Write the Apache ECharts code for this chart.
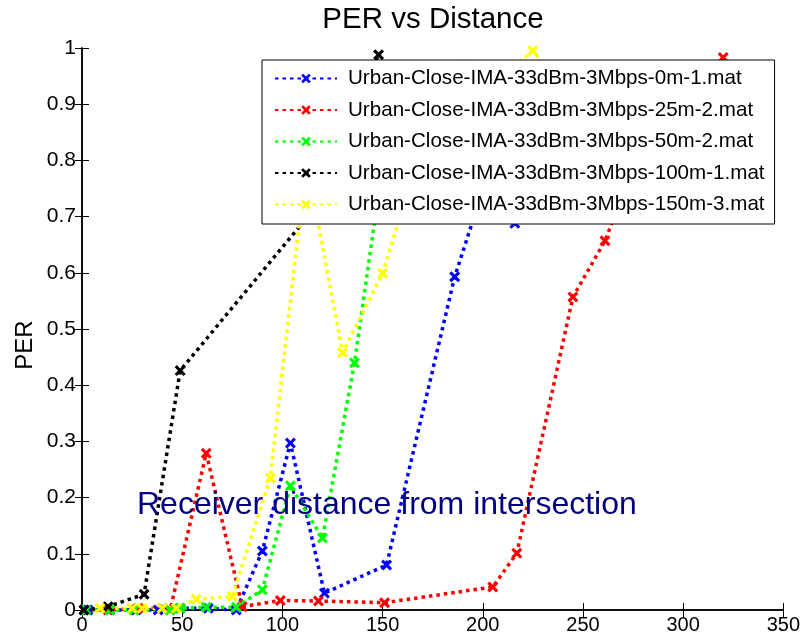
<!DOCTYPE html>
<html>
<head>
<meta charset="utf-8">
<script src="https://cdn.jsdelivr.net/npm/echarts@6/dist/echarts.min.js"></script>
<style>
  html, body { margin: 0; padding: 0; background: #fff; }
  #chart { width: 803px; height: 639px; }
</style>
</head>
<body>
<div id="chart"></div>
<script>
// series names
var names = [
    'Urban-Close-IMA-33dBm-3Mbps-0m-1.mat',
    'Urban-Close-IMA-33dBm-3Mbps-25m-2.mat',
    'Urban-Close-IMA-33dBm-3Mbps-50m-2.mat',
    'Urban-Close-IMA-33dBm-3Mbps-100m-1.mat',
    'Urban-Close-IMA-33dBm-3Mbps-150m-3.mat'
];
var colors = ['#0000ff', '#ff0000', '#00ff00', '#000000', '#ffff00'];

// distance (m) and PER values
var dist0m   = [3, 14, 27, 38, 49, 63, 77, 90, 104, 121, 152, 186, 203, 216, 232];
var per0m    = [0, 0, 0, 0, 0.003, 0.003, 0, 0.105, 0.297, 0.03, 0.08, 0.593, 0.78, 0.688, 0.93];

var dist25m  = [1, 13, 28, 40, 44, 62, 80, 99, 118, 151, 205, 217, 245, 261, 280, 300, 320];
var per25m   = [0, 0, 0.003, 0.003, 0, 0.279, 0.006, 0.017, 0.016, 0.013, 0.041, 0.101, 0.557, 0.657, 0.83, 0.9, 0.983];

var dist50m  = [2, 14, 26, 44, 49, 62, 77, 90, 104, 120, 136, 150, 191];
var per50m   = [0, 0, 0, 0, 0.003, 0.005, 0.005, 0.036, 0.221, 0.128, 0.44, 0.79, 0.97];

var dist100m = [1, 13, 31, 49, 115, 148];
var per100m  = [0, 0.006, 0.028, 0.426, 0.71, 0.988];

var dist150m = [9, 25, 30, 40, 47, 57, 75, 94, 112, 130, 150, 170, 200, 225, 240];
var per150m  = [0.003, 0.003, 0.003, 0.003, 0.003, 0.019, 0.024, 0.235, 0.8, 0.458, 0.599, 0.83, 0.92, 0.995, 0.93];

var xTicks = [0, 50, 100, 150, 200, 250, 300, 350];
var yTicks = [0, 0.1, 0.2, 0.3, 0.4, 0.5, 0.6, 0.7, 0.8, 0.9, 1];

var allDist = [dist0m, dist25m, dist50m, dist100m, dist150m];
var allPer  = [per0m, per25m, per50m, per100m, per150m];

// heavy x marker like matlab's
var xMark = 'path://M0,2 L2,0 L5,3 L8,0 L10,2 L7,5 L10,8 L8,10 L5,7 L2,10 L0,8 L3,5 Z';
var font = 'Liberation Sans';

function pairs(xs, ys) {
    var out = [];
    for (var i = 0; i < xs.length; i++) {
        out.push([xs[i], ys[i]]);
    }
    return out;
}

var series = names.map(function (name, i) {
    return {
        name: name,
        type: 'line',
        data: pairs(allDist[i], allPer[i]),
        symbol: xMark,
        symbolSize: 11,
        showSymbol: true,
        clip: false,
        animation: false,
        itemStyle: { color: colors[i] },
        lineStyle: { color: colors[i], width: 3.5, type: [3.5, 4], cap: 'butt' }
    };
});

var chart = echarts.init(document.getElementById('chart'));

var axisCommon = {
    axisLine: { show: true, lineStyle: { color: '#000', width: 1.5 } },
    axisTick: { show: true, inside: true, length: 7, lineStyle: { color: '#000', width: 1 } },
    splitLine: { show: false }
};

chart.setOption({
    backgroundColor: '#fff',
    animation: false,
    grid: { left: 82, right: 19, top: 48, bottom: 29, containLabel: false },
    legend: {
        data: names,
        orient: 'vertical',
        left: 262,
        top: 60,
        padding: [8, 10, 9, 12],
        itemWidth: 62,
        itemHeight: 12,
        itemGap: 10.5,
        backgroundColor: '#fff',
        borderColor: '#000',
        borderWidth: 1,
        borderRadius: 0,
        textStyle: { fontFamily: font, fontSize: 20.6, color: '#000', lineHeight: 20, padding: [0, 0, 0, 6] }
    },
    xAxis: [
        Object.assign({
            type: 'value',
            min: xTicks[0],
            max: xTicks[xTicks.length - 1],
            interval: 50,
            position: 'bottom',
            axisLabel: { fontFamily: font, fontSize: 20, color: '#000', margin: 5 }
        }, axisCommon),
        Object.assign({
            type: 'value',
            min: xTicks[0],
            max: xTicks[xTicks.length - 1],
            interval: 50,
            position: 'top',
            axisLabel: { show: false }
        }, axisCommon)
    ],
    yAxis: [
        Object.assign({
            type: 'value',
            min: yTicks[0],
            max: yTicks[yTicks.length - 1],
            interval: 0.1,
            position: 'left',
            axisLabel: { fontFamily: font, fontSize: 21, color: '#000', margin: 6 }
        }, axisCommon),
        Object.assign({
            type: 'value',
            min: yTicks[0],
            max: yTicks[yTicks.length - 1],
            interval: 0.1,
            position: 'right',
            axisLabel: { show: false }
        }, axisCommon)
    ],
    graphic: [{
        type: 'text',
        x: 433,
        y: 20,
        style: {
            text: 'PER vs Distance',
            font: '29.5px "Liberation Sans"',
            fill: '#000',
            align: 'center',
            verticalAlign: 'middle'
        }
    }, {
        type: 'text',
        x: 137,
        y: 505,
        z: 10,
        style: {
            text: 'Receiver distance from intersection',
            font: '32px "Liberation Sans"',
            fill: '#000080',
            verticalAlign: 'middle'
        }
    }, {
        type: 'text',
        x: 25,
        y: 345,
        rotation: Math.PI / 2,
        style: {
            text: 'PER',
            font: '24px "Liberation Sans"',
            fill: '#000',
            align: 'center',
            verticalAlign: 'middle'
        }
    }],
    series: series
});
</script>
</body>
</html>
